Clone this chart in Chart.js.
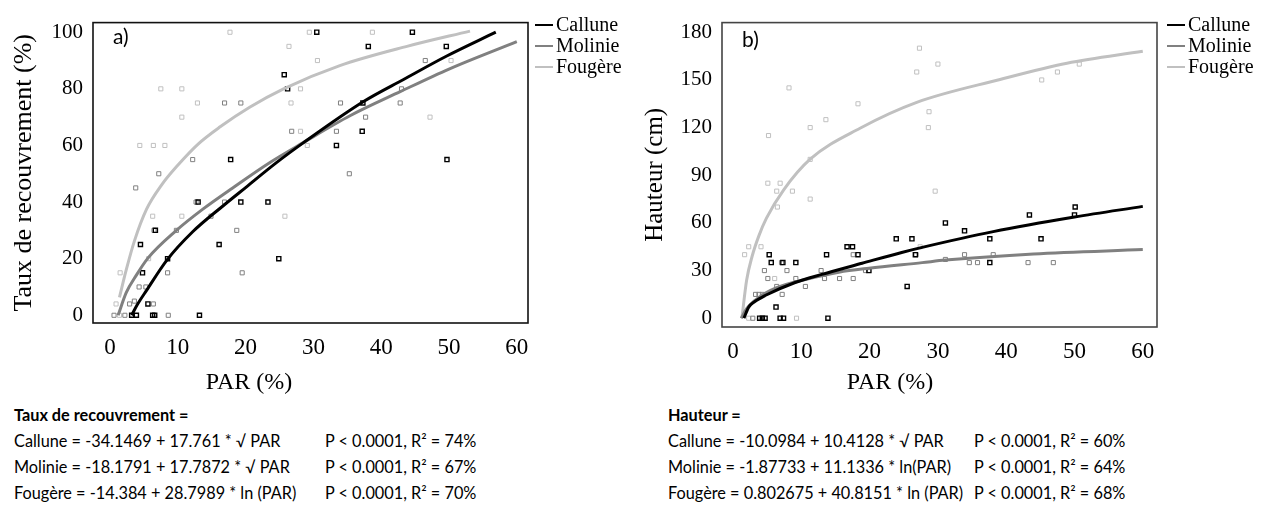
<!DOCTYPE html>
<html lang="fr">
<head>
<meta charset="utf-8">
<title>PAR</title>
<script src="https://cdn.jsdelivr.net/npm/chart.js@4.4.0/dist/chart.umd.min.js"></script>
<style>
  body{margin:0;background:#fff;}
  #page{position:relative;width:1270px;height:509px;overflow:hidden;font-family:'Liberation Serif','Times New Roman',serif;color:#000;}
  .pane{position:absolute;top:0;height:400px;}
  #pa{left:0;width:640px;}
  #pb{left:640px;width:630px;}
  .tag{position:absolute;font-family:Lato,'Open Sans',sans-serif;font-size:21px;line-height:22px;}
  .xt{position:absolute;top:367px;width:120px;text-align:center;font-size:24px;line-height:28px;}
  .leg{position:absolute;font-size:20px;}
  .leg div{display:flex;align-items:center;height:21px;}
  .leg i{display:inline-block;width:18px;height:2px;margin-right:3px;}
  .eq{position:absolute;font-family:Lato,'Open Sans',sans-serif;font-size:16.3px;line-height:26px;}
  .eq div{position:relative;height:26px;white-space:nowrap;}
  .eq b{font-weight:700;}
  .eq span.p{position:absolute;top:0;}
</style>
</head>
<body>
<div id="page">
  <div class="pane" id="pa"><canvas id="chart-taux" width="640" height="400"></canvas></div>
  <div class="pane" id="pb"><canvas id="chart-haut" width="630" height="400"></canvas></div>

  <div class="tag" style="left:113px;top:25px;">a)</div>
  <div class="tag" style="left:742px;top:28px;">b)</div>

  <div class="xt" style="left:189px;">PAR (%)</div>
  <div class="xt" style="left:830px;">PAR (%)</div>

  <div class="leg" style="left:535px;top:14px;">
    <div><i style="background:#000"></i>Callune</div>
    <div><i style="background:#808080"></i>Molinie</div>
    <div><i style="background:#c0c0c0"></i>Fougère</div>
  </div>
  <div class="leg" style="left:1167px;top:14px;">
    <div><i style="background:#000"></i>Callune</div>
    <div><i style="background:#808080"></i>Molinie</div>
    <div><i style="background:#c0c0c0"></i>Fougère</div>
  </div>

  <div class="eq" style="left:14px;top:402px;width:600px;">
    <div><b>Taux de recouvrement =</b></div>
    <div>Callune = -34.1469 + 17.761 * √ PAR<span class="p" style="left:311px">P &lt; 0.0001, R² = 74%</span></div>
    <div>Molinie = -18.1791 + 17.7872 * √ PAR<span class="p" style="left:311px">P &lt; 0.0001, R² = 67%</span></div>
    <div>Fougère = -14.384 + 28.7989 * ln (PAR)<span class="p" style="left:311px">P &lt; 0.0001, R² = 70%</span></div>
  </div>
  <div class="eq" style="left:668px;top:402px;width:600px;">
    <div><b>Hauteur =</b></div>
    <div>Callune = -10.0984 + 10.4128 * √ PAR<span class="p" style="left:306px">P &lt; 0.0001, R² = 60%</span></div>
    <div>Molinie = -1.87733 + 11.1336 * ln(PAR)<span class="p" style="left:306px">P &lt; 0.0001, R² = 64%</span></div>
    <div>Fougère = 0.802675 + 40.8151 * ln (PAR)<span class="p" style="left:306px">P &lt; 0.0001, R² = 68%</span></div>
  </div>
</div>

<script>
// ticks
const parTicks = [0, 10, 20, 30, 40, 50, 60];
const tauxTicks = [0, 20, 40, 60, 80, 100];
const hautTicks = [0, 30, 60, 90, 120, 150, 180];

// a) Taux de recouvrement : observations [PAR, taux]
const tauxCallunePts = [[30.5,100],[44.6,100],[38.1,95],[49.6,95],[25.7,85],[26.2,80],[37.3,75],[37.2,65],[33.4,60],[17.8,55],[49.7,55],[13.0,40],[19.3,40],[23.3,40],[6.7,30],[4.5,25],[16.1,25],[8.5,20],[24.9,20],[4.8,15],[5.6,4],[3.2,0],[3.9,0],[6.3,0],[6.6,0],[13.2,0]];
const tauxMoliniePts = [[46.5,90],[43.0,80],[16.9,75],[19.3,75],[34.0,75],[42.8,75],[37.7,70],[26.8,65],[33.4,65],[12.2,55],[7.2,50],[35.3,50],[3.8,45],[12.7,40],[16.9,40],[14.9,35],[6.5,30],[9.8,30],[18.7,30],[8.5,15],[19.5,15],[4.3,10],[5.3,10],[3.6,5],[2.9,4],[6.4,4],[0.6,0],[2.2,0],[8.6,0]];
const tauxFougerePts = [[17.7,100],[29.4,100],[38.7,100],[26.4,95],[30.6,90],[50.3,90],[7.5,80],[10.6,80],[28.1,80],[12.9,75],[26.7,75],[10.6,70],[47.2,70],[28.1,65],[4.4,60],[6.4,60],[8.1,60],[29.1,60],[6.3,35],[10.6,35],[25.8,35],[5.7,20],[1.5,15],[0.9,4],[1.4,0]];

// a) courbes ajustées (lues sur la figure)
const tauxCalluneX = [3.2, 4, 5.4, 8.4, 12.2, 16.7, 20.1, 24.6, 28.5, 37.4, 43.3, 49.6, 56.9];
const tauxCalluneY = [0, 3.6, 8.8, 19.5, 29.5, 38.7, 45.3, 54, 60.9, 75.5, 83.3, 91.5, 100];
const tauxMolinieX = [1.2, 2.4, 3.9, 5.6, 9.8, 13.7, 18.1, 23.6, 28.5, 35.4, 42.8, 50, 60];
const tauxMolinieY = [0, 8, 14.2, 20.2, 30, 37.5, 45, 54, 61, 70.5, 79, 87, 96.7];
const tauxFougereX = [1.4, 2.4, 3.6, 5.4, 7.6, 10, 13, 16.2, 20.6, 25.6, 33.9, 43.8, 53.1];
const tauxFougereY = [6.3, 16, 26.2, 37.5, 46, 53, 60.5, 66.5, 73.5, 80, 88.2, 95, 100.4];

// b) Hauteur : observations [PAR, hauteur]
const hautCallunePts = [[5.3,40],[5.6,35],[7.3,35],[9.2,35],[13.7,40],[16.7,45],[17.5,45],[18.3,40],[23.9,50],[26.2,50],[26.7,40],[19.9,30],[25.5,20],[6.3,7],[31.1,60],[33.9,55],[37.6,50],[43.4,65],[45.1,50],[50.1,70],[50.0,65],[37.6,35],[3.9,0],[4.3,0],[4.7,0],[6.9,0],[7.4,0],[13.9,0]];
const hautMoliniePts = [[4.6,30],[7.9,30],[12.9,30],[7.1,35],[17.6,40],[26.8,40],[5.1,25],[9.2,25],[13.4,25],[15.6,25],[17.6,25],[19.4,30],[10.6,20],[6.4,20],[3.3,15],[3.8,15],[4.3,15],[7.2,15],[34.6,35],[35.8,35],[43.2,35],[46.9,35],[33.9,40],[38.1,40],[31.1,37],[2.9,0]];
const hautFougerePts = [[27.3,170],[30.0,160],[26.9,155],[8.2,145],[18.3,135],[13.6,125],[11.3,120],[5.2,115],[28.7,130],[28.6,120],[11.3,100],[50.7,160],[47.5,155],[45.2,150],[5.1,85],[6.9,85],[6.4,80],[8.7,80],[6.5,70],[11.3,75],[29.6,80],[2.3,45],[4.1,45],[1.7,40],[27.4,45],[6.1,25],[2.3,0],[9.3,0]];

// b) courbes ajustées
const hautCalluneX = [1.6, 2.3, 3.2, 4.7, 9.1, 13, 18.9, 24.7, 27.7, 38.1, 50, 60];
const hautCalluneY = [0, 7, 10.5, 14.3, 22.5, 27.6, 34.6, 41.4, 44.6, 54.5, 63.7, 70.4];
const hautMolinieX = [1.2, 2, 3.8, 6.4, 10.6, 15.5, 19.9, 27.7, 31.1, 44, 60];
const hautMolinieY = [0, 6, 13.1, 19.2, 24.4, 29, 31.5, 35, 36.6, 40.5, 43.2];
const hautFougereX = [1.3, 2, 2.8, 3.8, 4.9, 7.4, 11.3, 18.6, 26.9, 39.1, 48.9, 60];
const hautFougereY = [0, 24, 39, 52, 63, 80.7, 100.1, 119.6, 135.9, 150.3, 160.5, 168];

const COL_CAL = '#000000';
const COL_MOL = '#808080';
const COL_FOU = '#c0c0c0';

const toXY = (pts) => pts.map(p => ({x: p[0], y: p[1]}));
const zipXY = (xs, ys) => xs.map((x, i) => ({x, y: ys[i]}));

function pointSet(pts, color, bw){
  return {
    type: 'scatter', data: toXY(pts), order: 2,
    pointStyle: 'rect', pointRadius: 2.9, borderWidth: bw,
    borderColor: color, backgroundColor: 'rgba(0,0,0,0)', showLine: false
  };
}
function curveSet(xs, ys, color){
  return {
    type: 'line', data: zipXY(xs, ys), order: 1,
    borderColor: color, borderWidth: 3, pointRadius: 0,
    cubicInterpolationMode: 'monotone', fill: false
  };
}

// cadre autour de la zone de tracé
const framePlugin = {
  id: 'frame',
  afterDraw(chart, args, opts){
    const {ctx, chartArea: a} = chart;
    ctx.save();
    ctx.strokeStyle = opts.color || '#000';
    ctx.lineWidth = 1.6;
    ctx.strokeRect(a.left, a.top, a.right - a.left, a.bottom - a.top);
    ctx.restore();
  }
};

function makeChart(id, cfg){
  const ctx = document.getElementById(id).getContext('2d');
  return new Chart(ctx, {
    data: { datasets: cfg.datasets },
    options: {
      responsive: false, animation: false,
      layout: { padding: cfg.padding },
      plugins: { legend: { display: false }, tooltip: { enabled: false }, frame: { color: cfg.frame } },
      scales: {
        x: {
          type: 'linear', min: cfg.xMin, max: cfg.xMax,
          grid: { display: false, drawTicks: false }, border: { display: false },
          afterBuildTicks: s => { s.ticks = parTicks.map(v => ({value: v})); },
          afterFit: s => { s.height = cfg.xH; },
          ticks: { color: '#000', padding: 11, font: { family: 'Liberation Serif', size: 23 } }
        },
        y: {
          type: 'linear', min: cfg.yMin, max: cfg.yMax,
          grid: { display: false, drawTicks: false }, border: { display: false },
          afterBuildTicks: s => { s.ticks = cfg.yTicks.map(v => ({value: v})); },
          afterFit: s => { s.width = cfg.yW; },
          ticks: { color: '#000', padding: 10, font: { family: 'Liberation Serif', size: 21 } },
          title: { display: true, text: cfg.yTitle, color: '#000', padding: { top: cfg.yTitlePad, bottom: 0 }, font: { family: 'Liberation Serif', size: cfg.yTitleSize } }
        }
      }
    },
    plugins: [framePlugin]
  });
}

makeChart('chart-taux', {
  datasets: [
    curveSet(tauxCalluneX, tauxCalluneY, COL_CAL),
    curveSet(tauxMolinieX, tauxMolinieY, COL_MOL),
    curveSet(tauxFougereX, tauxFougereY, COL_FOU),
    pointSet(tauxCallunePts, COL_CAL, 1.4),
    pointSet(tauxMoliniePts, COL_MOL, 1),
    pointSet(tauxFougerePts, COL_FOU, 1)
  ],
  padding: { left: 0, top: 12, right: 112, bottom: 0 },
  xMin: -2.5, xMax: 61.65, xH: 77,
  yMin: -2.73, yMax: 103.4, yW: 93, yTicks: tauxTicks,
  yTitle: 'Taux de recouvrement (%)', yTitlePad: 9, yTitleSize: 26, frame: '#111'
});

makeChart('chart-haut', {
  datasets: [
    curveSet(hautCalluneX, hautCalluneY, COL_CAL),
    curveSet(hautMolinieX, hautMolinieY, COL_MOL),
    curveSet(hautFougereX, hautFougereY, COL_FOU),
    pointSet(hautCallunePts, COL_CAL, 1.4),
    pointSet(hautMoliniePts, COL_MOL, 1),
    pointSet(hautFougerePts, COL_FOU, 1)
  ],
  padding: { left: 0, top: 15, right: 113, bottom: 0 },
  xMin: -1.61, xMax: 62.08, xH: 73,
  yMin: -5.53, yMax: 186.1, yW: 82, yTicks: hautTicks,
  yTitle: 'Hauteur (cm)', yTitlePad: 0, yTitleSize: 25, frame: '#444'
});
</script>
</body>
</html>
